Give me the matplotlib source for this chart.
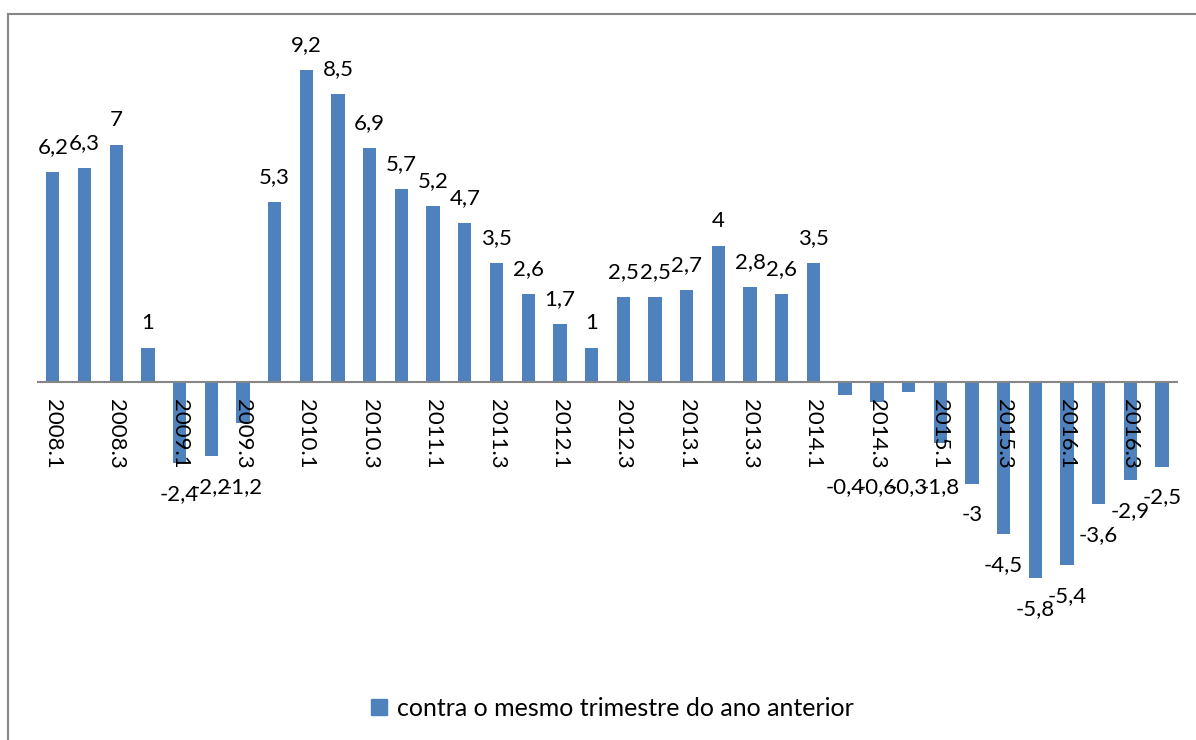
import matplotlib
matplotlib.use('Agg')
from matplotlib import pyplot as plt
from matplotlib.lines import Line2D
from matplotlib.patches import Patch
import numpy as np

plt.rcParams['font.family'] = ['Lato', 'DejaVu Sans']

quarters = [f'{y}.{q}' for y in range(2008, 2017) for q in range(1, 5)]
values = [6.2, 6.3, 7, 1, -2.4, -2.2, -1.2, 5.3,
          9.2, 8.5, 6.9, 5.7, 5.2, 4.7, 3.5, 2.6,
          1.7, 1, 2.5, 2.5, 2.7, 4, 2.8, 2.6,
          3.5, -0.4, -0.6, -0.3, -1.8, -3, -4.5, -5.8,
          -5.4, -3.6, -2.9, -2.5]
series_name = 'contra o mesmo trimestre do ano anterior'
bar_color = '#4F81BD'

fig = plt.figure(figsize=(11.96, 7.40), dpi=100)
ax = fig.add_axes([0.0309, 0.1176, 0.954, 0.8243])

x = np.arange(len(values))
ax.bar(x, values, width=0.42, color=bar_color)
ax.set_xlim(-0.5, len(values) - 0.5)
ax.set_ylim(-8, 10)

px = 72 / 100  # points per pixel
ax_h_px = 0.8243 * 740
unit_px = ax_h_px / 18.0

# data labels (comma decimals, Excel style)
for xi, v in zip(x, values):
    lab = f'{v:g}'.replace('.', ',')
    if v >= 0:
        ax.annotate(lab, (xi, v), xytext=(0, 19 * px), textcoords='offset points',
                    ha='center', va='baseline', fontsize=16)
    else:
        # negative labels sit below the bar end, but never above the tick labels
        drop = max(-v * unit_px + 37, 111)
        ax.annotate(lab, (xi, 0), xytext=(0, -drop * px), textcoords='offset points',
                    ha='center', va='baseline', fontsize=16)

ax.axhline(0, color='#868686', lw=1.5)
for s in ax.spines.values():
    s.set_visible(False)
ax.set_yticks([])
ax.set_xticks([])

# category labels every second quarter, rotated, just under the zero line
for xi in x[::2]:
    ax.annotate(quarters[xi], (xi, 0), xytext=(0, -17 * px), textcoords='offset points',
                rotation=270, fontsize=16, ha='center', va='top')

fig.legend(handles=[Patch(color=bar_color)], labels=[series_name],
           loc='center', bbox_to_anchor=(0.512, 0.043), frameon=False,
           fontsize=18, handlelength=0.65, handleheight=0.65, handletextpad=0.4)

fig.add_artist(Line2D([8 / 1196, 8 / 1196], [0, 1 - 14 / 740], color='#878787', lw=1.5))
fig.add_artist(Line2D([8 / 1196, 1], [1 - 14 / 740, 1 - 14 / 740], color='#878787', lw=1.5))

fig.savefig('out.png', dpi=100)
